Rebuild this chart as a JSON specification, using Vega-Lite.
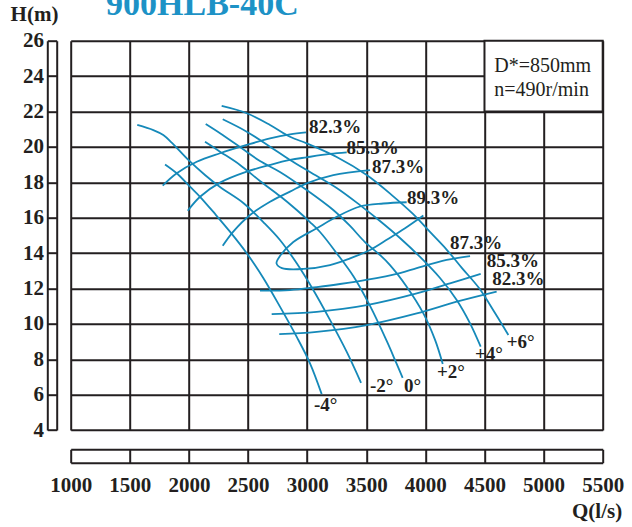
{
  "$schema": "https://vega.github.io/schema/vega-lite/v6.json",
  "width": 532,
  "height": 389.3,
  "autosize": {"type": "none"},
  "padding": {"left": 70.7, "top": 40.7, "right": 29.3, "bottom": 97},
  "background": "white",
  "config": {"view": {"stroke": null}, "font": "Liberation Serif"},
  "datasets": {
    "curves": [
      {"c": "-4°", "i": 1, "q": 1798, "h": 19.01}, {"c": "-4°", "i": 2, "q": 1897, "h": 18.51}, {"c": "-4°", "i": 3, "q": 2009, "h": 17.75}, {"c": "-4°", "i": 4, "q": 2094, "h": 17.18}, {"c": "-4°", "i": 5, "q": 2221, "h": 16.21}, {"c": "-4°", "i": 6, "q": 2347, "h": 15.21}, {"c": "-4°", "i": 7, "q": 2489, "h": 13.99}, {"c": "-4°", "i": 8, "q": 2629, "h": 12.59}, {"c": "-4°", "i": 9, "q": 2770, "h": 10.97}, {"c": "-4°", "i": 10, "q": 2912, "h": 9.26}, {"c": "-4°", "i": 11, "q": 3024, "h": 7.77}, {"c": "-4°", "i": 12, "q": 3123, "h": 6.03},
      {"c": "-2°", "i": 1, "q": 1563, "h": 21.24}, {"c": "-2°", "i": 2, "q": 1699, "h": 20.95}, {"c": "-2°", "i": 3, "q": 1783, "h": 20.67}, {"c": "-2°", "i": 4, "q": 1854, "h": 20.24}, {"c": "-2°", "i": 5, "q": 1995, "h": 19.26}, {"c": "-2°", "i": 6, "q": 2136, "h": 18.41}, {"c": "-2°", "i": 7, "q": 2263, "h": 17.73}, {"c": "-2°", "i": 8, "q": 2460, "h": 16.83}, {"c": "-2°", "i": 9, "q": 2629, "h": 15.75}, {"c": "-2°", "i": 10, "q": 2770, "h": 14.74}, {"c": "-2°", "i": 11, "q": 2912, "h": 13.42}, {"c": "-2°", "i": 12, "q": 3052, "h": 11.91}, {"c": "-2°", "i": 13, "q": 3193, "h": 10.22}, {"c": "-2°", "i": 14, "q": 3335, "h": 8.41}, {"c": "-2°", "i": 15, "q": 3456, "h": 6.66},
      {"c": "0°", "i": 1, "q": 2136, "h": 20.29}, {"c": "0°", "i": 2, "q": 2263, "h": 19.73}, {"c": "0°", "i": 3, "q": 2432, "h": 18.98}, {"c": "0°", "i": 4, "q": 2601, "h": 18.07}, {"c": "0°", "i": 5, "q": 2770, "h": 17.22}, {"c": "0°", "i": 6, "q": 2912, "h": 16.43}, {"c": "0°", "i": 7, "q": 3024, "h": 15.75}, {"c": "0°", "i": 8, "q": 3109, "h": 15.19}, {"c": "0°", "i": 9, "q": 3250, "h": 13.99}, {"c": "0°", "i": 10, "q": 3390, "h": 12.70}, {"c": "0°", "i": 11, "q": 3532, "h": 11.01}, {"c": "0°", "i": 12, "q": 3673, "h": 9.03}, {"c": "0°", "i": 13, "q": 3743, "h": 7.96}, {"c": "0°", "i": 14, "q": 3808, "h": 6.94},
      {"c": "+2°", "i": 1, "q": 2142, "h": 21.29}, {"c": "+2°", "i": 2, "q": 2263, "h": 20.77}, {"c": "+2°", "i": 3, "q": 2432, "h": 19.99}, {"c": "+2°", "i": 4, "q": 2601, "h": 19.20}, {"c": "+2°", "i": 5, "q": 2770, "h": 18.58}, {"c": "+2°", "i": 6, "q": 2996, "h": 17.56}, {"c": "+2°", "i": 7, "q": 3221, "h": 16.43}, {"c": "+2°", "i": 8, "q": 3363, "h": 15.53}, {"c": "+2°", "i": 9, "q": 3489, "h": 14.62}, {"c": "+2°", "i": 10, "q": 3616, "h": 13.89}, {"c": "+2°", "i": 11, "q": 3701, "h": 13.32}, {"c": "+2°", "i": 12, "q": 3842, "h": 12.10}, {"c": "+2°", "i": 13, "q": 3983, "h": 10.59}, {"c": "+2°", "i": 14, "q": 4082, "h": 9.09}, {"c": "+2°", "i": 15, "q": 4147, "h": 7.73},
      {"c": "+4°", "i": 1, "q": 2286, "h": 21.56}, {"c": "+4°", "i": 2, "q": 2489, "h": 20.86}, {"c": "+4°", "i": 3, "q": 2686, "h": 20.01}, {"c": "+4°", "i": 4, "q": 2855, "h": 19.26}, {"c": "+4°", "i": 5, "q": 3024, "h": 18.58}, {"c": "+4°", "i": 6, "q": 3250, "h": 17.68}, {"c": "+4°", "i": 7, "q": 3447, "h": 16.71}, {"c": "+4°", "i": 8, "q": 3616, "h": 15.81}, {"c": "+4°", "i": 9, "q": 3785, "h": 14.85}, {"c": "+4°", "i": 10, "q": 3955, "h": 13.78}, {"c": "+4°", "i": 11, "q": 4124, "h": 12.59}, {"c": "+4°", "i": 12, "q": 4265, "h": 11.35}, {"c": "+4°", "i": 13, "q": 4378, "h": 10.03}, {"c": "+4°", "i": 14, "q": 4468, "h": 8.71},
      {"c": "+6°", "i": 1, "q": 2277, "h": 22.31}, {"c": "+6°", "i": 2, "q": 2489, "h": 21.90}, {"c": "+6°", "i": 3, "q": 2686, "h": 21.24}, {"c": "+6°", "i": 4, "q": 2855, "h": 20.57}, {"c": "+6°", "i": 5, "q": 2996, "h": 20.20}, {"c": "+6°", "i": 6, "q": 3250, "h": 19.43}, {"c": "+6°", "i": 7, "q": 3504, "h": 18.41}, {"c": "+6°", "i": 8, "q": 3726, "h": 17.22}, {"c": "+6°", "i": 9, "q": 3895, "h": 16.21}, {"c": "+6°", "i": 10, "q": 4039, "h": 15.19}, {"c": "+6°", "i": 11, "q": 4183, "h": 14.17}, {"c": "+6°", "i": 12, "q": 4310, "h": 13.15}, {"c": "+6°", "i": 13, "q": 4454, "h": 12.02}, {"c": "+6°", "i": 14, "q": 4589, "h": 10.61}, {"c": "+6°", "i": 15, "q": 4702, "h": 9.37},
      {"c": "82.3% a", "i": 1, "q": 1778, "h": 17.81}, {"c": "82.3% a", "i": 2, "q": 1897, "h": 18.51}, {"c": "82.3% a", "i": 3, "q": 2066, "h": 19.16}, {"c": "82.3% a", "i": 4, "q": 2263, "h": 19.64}, {"c": "82.3% a", "i": 5, "q": 2489, "h": 20.11}, {"c": "82.3% a", "i": 6, "q": 2686, "h": 20.48}, {"c": "82.3% a", "i": 7, "q": 2855, "h": 20.71}, {"c": "82.3% a", "i": 8, "q": 2990, "h": 20.82},
      {"c": "85.3% a", "i": 1, "q": 1990, "h": 16.39}, {"c": "85.3% a", "i": 2, "q": 2094, "h": 17.18}, {"c": "85.3% a", "i": 3, "q": 2263, "h": 17.98}, {"c": "85.3% a", "i": 4, "q": 2489, "h": 18.60}, {"c": "85.3% a", "i": 5, "q": 2686, "h": 18.98}, {"c": "85.3% a", "i": 6, "q": 2855, "h": 19.26}, {"c": "85.3% a", "i": 7, "q": 2996, "h": 19.41}, {"c": "85.3% a", "i": 8, "q": 3193, "h": 19.60}, {"c": "85.3% a", "i": 9, "q": 3335, "h": 19.69},
      {"c": "87.3% a", "i": 1, "q": 2286, "h": 14.41}, {"c": "87.3% a", "i": 2, "q": 2375, "h": 15.21}, {"c": "87.3% a", "i": 3, "q": 2517, "h": 16.15}, {"c": "87.3% a", "i": 4, "q": 2686, "h": 16.90}, {"c": "87.3% a", "i": 5, "q": 2855, "h": 17.47}, {"c": "87.3% a", "i": 6, "q": 2996, "h": 17.94}, {"c": "87.3% a", "i": 7, "q": 3221, "h": 18.41}, {"c": "87.3% a", "i": 8, "q": 3532, "h": 18.69},
      {"c": "89.3%", "i": 1, "q": 3842, "h": 16.87}, {"c": "89.3%", "i": 2, "q": 3644, "h": 16.80}, {"c": "89.3%", "i": 3, "q": 3447, "h": 16.63}, {"c": "89.3%", "i": 4, "q": 3250, "h": 16.05}, {"c": "89.3%", "i": 5, "q": 3081, "h": 15.40}, {"c": "89.3%", "i": 6, "q": 2883, "h": 14.62}, {"c": "89.3%", "i": 7, "q": 2770, "h": 13.83}, {"c": "89.3%", "i": 8, "q": 2741, "h": 13.42}, {"c": "89.3%", "i": 9, "q": 2787, "h": 13.15}, {"c": "89.3%", "i": 10, "q": 2968, "h": 13.10}, {"c": "89.3%", "i": 11, "q": 3193, "h": 13.32}, {"c": "89.3%", "i": 12, "q": 3363, "h": 13.70}, {"c": "89.3%", "i": 13, "q": 3532, "h": 14.17}, {"c": "89.3%", "i": 14, "q": 3684, "h": 14.79}, {"c": "89.3%", "i": 15, "q": 3828, "h": 15.40}, {"c": "89.3%", "i": 16, "q": 3983, "h": 16.12},
      {"c": "87.3% b", "i": 1, "q": 2601, "h": 11.88}, {"c": "87.3% b", "i": 2, "q": 2855, "h": 11.91}, {"c": "87.3% b", "i": 3, "q": 3081, "h": 12.08}, {"c": "87.3% b", "i": 4, "q": 3278, "h": 12.25}, {"c": "87.3% b", "i": 5, "q": 3498, "h": 12.48}, {"c": "87.3% b", "i": 6, "q": 3785, "h": 12.87}, {"c": "87.3% b", "i": 7, "q": 3927, "h": 13.15}, {"c": "87.3% b", "i": 8, "q": 4180, "h": 13.61}, {"c": "87.3% b", "i": 9, "q": 4378, "h": 13.83},
      {"c": "85.3% b", "i": 1, "q": 2700, "h": 10.55}, {"c": "85.3% b", "i": 2, "q": 3081, "h": 10.68}, {"c": "85.3% b", "i": 3, "q": 3504, "h": 11.06}, {"c": "85.3% b", "i": 4, "q": 3927, "h": 11.72}, {"c": "85.3% b", "i": 5, "q": 4208, "h": 12.29}, {"c": "85.3% b", "i": 6, "q": 4468, "h": 12.82},
      {"c": "82.3% b", "i": 1, "q": 2764, "h": 9.42}, {"c": "82.3% b", "i": 2, "q": 3081, "h": 9.55}, {"c": "82.3% b", "i": 3, "q": 3504, "h": 9.93}, {"c": "82.3% b", "i": 4, "q": 3927, "h": 10.59}, {"c": "82.3% b", "i": 5, "q": 4265, "h": 11.25}, {"c": "82.3% b", "i": 6, "q": 4603, "h": 11.82}
    ],
    "labels": [
      {"t": "82.3%", "q": 3016, "h": 21.11}, {"t": "85.3%", "q": 3333, "h": 19.92}, {"t": "87.3%", "q": 3549, "h": 18.88}, {"t": "89.3%", "q": 3845, "h": 17.09},
      {"t": "87.3%", "q": 4208, "h": 14.55}, {"t": "85.3%", "q": 4519, "h": 13.55}, {"t": "82.3%", "q": 4566, "h": 12.52},
      {"t": "-4°", "q": 3058, "h": 5.41}, {"t": "-2°", "q": 3532, "h": 6.48}, {"t": "0°", "q": 3819, "h": 6.48}, {"t": "+2°", "q": 4098, "h": 7.29}, {"t": "+4°", "q": 4420, "h": 8.29}, {"t": "+6°", "q": 4688, "h": 8.99}
    ],
    "note": [
      {"t": "D*=850mm", "q": 4583, "h": 24.23}, {"t": "n=490r/min", "q": 4583, "h": 22.875}
    ]
  },
  "resolve": {"scale": {"x": "independent", "y": "independent"}},
  "layer": [
    {
      "data": {"name": "curves"},
      "mark": {"type": "line", "color": "#1589b9", "strokeWidth": 1.8, "interpolate": "catmull-rom", "clip": false},
      "encoding": {
        "x": {"field": "q", "type": "quantitative", "scale": {"domain": [1000, 5500], "nice": false, "zero": false},
          "axis": {"values": [1000, 1500, 2000, 2500, 3000, 3500, 4000, 4500, 5000, 5500], "format": "d",
            "grid": true, "gridColor": "#231f20", "gridWidth": 2, "gridOpacity": 1,
            "domain": true, "domainColor": "#231f20", "domainWidth": 2,
            "ticks": true, "tickSize": 13.4, "tickWidth": 2, "tickColor": "#231f20", "offset": 19.3,
            "labelFont": "Liberation Serif", "labelFontSize": 21, "labelFontWeight": "bold", "labelColor": "#231f20",
            "labelPadding": 29, "labelBaseline": "alphabetic", "labelFlush": false, "labelOverlap": false,
            "title": "Q(l/s)", "titleFont": "Liberation Serif", "titleFontSize": 21, "titleFontWeight": "bold", "titleColor": "#231f20",
            "titleX": 551, "titleY": 67.7, "titleAlign": "right", "titleBaseline": "alphabetic"}},
        "y": {"field": "h", "type": "quantitative", "scale": {"domain": [4, 26], "nice": false, "zero": false},
          "axis": {"values": [4, 6, 8, 10, 12, 14, 16, 18, 20, 22, 24, 26],
            "grid": true, "gridColor": "#231f20", "gridWidth": 2, "gridOpacity": 1,
            "domain": true, "domainColor": "#231f20", "domainWidth": 2,
            "ticks": true, "tickSize": 9.4, "tickWidth": 2, "tickColor": "#231f20", "offset": 14,
            "labelFont": "Liberation Serif", "labelFontSize": 21, "labelFontWeight": "bold", "labelColor": "#231f20",
            "labelPadding": 3.8, "labelFlush": false, "labelOverlap": false,
            "title": "H(m)", "titleFont": "Liberation Serif", "titleFontSize": 21, "titleFontWeight": "bold", "titleColor": "#231f20",
            "titleAngle": 0, "titleX": -22.7, "titleY": -20.2, "titleAlign": "center", "titleBaseline": "alphabetic"}},
        "detail": {"field": "c"},
        "order": {"field": "i", "type": "quantitative"}
      }
    },
    {
      "data": {"values": [{}]},
      "mark": {"type": "rect", "fill": "white", "stroke": "#231f20", "strokeWidth": 2},
      "encoding": {
        "x": {"datum": 4500, "type": "quantitative", "scale": {"domain": [1000, 5500], "nice": false, "zero": false},
          "axis": {"orient": "bottom", "offset": 32.7, "domain": true, "domainColor": "#231f20", "domainWidth": 2, "ticks": false, "labels": false, "grid": false, "title": null}},
        "x2": {"datum": 5500},
        "y": {"datum": 22, "type": "quantitative", "scale": {"domain": [4, 26], "nice": false, "zero": false},
          "axis": {"orient": "left", "offset": 23.4, "domain": true, "domainColor": "#231f20", "domainWidth": 2, "ticks": false, "labels": false, "grid": false, "title": null}},
        "y2": {"datum": 26}
      }
    },
    {
      "data": {"name": "labels"},
      "mark": {"type": "text", "align": "left", "baseline": "middle", "font": "Liberation Serif", "fontSize": 19, "fontWeight": "bold", "color": "#231f20"},
      "encoding": {
        "x": {"field": "q", "type": "quantitative", "scale": {"domain": [1000, 5500], "nice": false, "zero": false}, "axis": null},
        "y": {"field": "h", "type": "quantitative", "scale": {"domain": [4, 26], "nice": false, "zero": false}, "axis": null},
        "text": {"field": "t"}
      }
    },
    {
      "data": {"name": "note"},
      "mark": {"type": "text", "align": "left", "baseline": "alphabetic", "font": "Liberation Serif", "fontSize": 20, "color": "#231f20"},
      "encoding": {
        "x": {"field": "q", "type": "quantitative", "scale": {"domain": [1000, 5500], "nice": false, "zero": false}, "axis": null},
        "y": {"field": "h", "type": "quantitative", "scale": {"domain": [4, 26], "nice": false, "zero": false}, "axis": null},
        "text": {"field": "t"}
      }
    },
    {
      "data": {"values": [{}]},
      "mark": {"type": "text", "align": "left", "baseline": "alphabetic", "font": "Liberation Serif", "fontSize": 34, "fontWeight": "bold", "color": "#1d92c6", "clip": false},
      "encoding": {
        "x": {"datum": 1299, "type": "quantitative", "scale": {"domain": [1000, 5500], "nice": false, "zero": false}, "axis": null},
        "y": {"datum": 27.45, "type": "quantitative", "scale": {"domain": [4, 26], "nice": false, "zero": false}, "axis": null},
        "text": {"value": "900HLB-40C"}
      }
    }
  ]
}
